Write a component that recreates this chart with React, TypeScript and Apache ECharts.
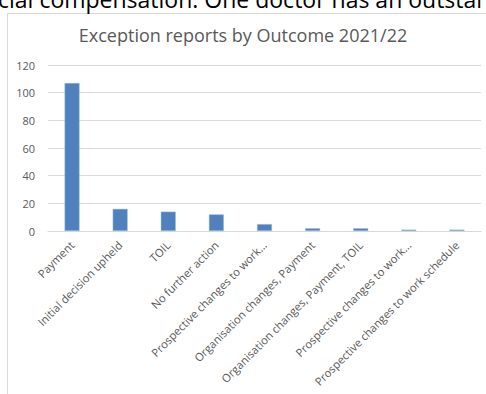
import React, { useEffect, useRef } from "react";
import * as echarts from "echarts";

const categories = [
  "Payment",
  "Initial decision upheld",
  "TOIL",
  "No further action",
  "Prospective changes to work...",
  "Organisation changes, Payment",
  "Organisation changes, Payment, TOIL",
  "Prospective changes to work...",
  "Prospective changes to work schedule",
];
const values = [107, 16, 14, 12, 5, 2, 2, 1, 1];
const yTicks = { min: 0, max: 120, interval: 20 };
const titleText = "Exception reports by Outcome 2021/22";
const docText = "cial compensation. One doctor has an outstanding";

export default function App() {
  const ref = useRef<HTMLDivElement>(null);
  useEffect(() => {
    if (!ref.current) return;
    const chart = echarts.init(ref.current, null, { renderer: "svg" });
    const font = "'Open Sans', sans-serif";
    chart.setOption({
      animation: false,
      backgroundColor: "#ffffff",
      title: {
        text: titleText,
        left: "center",
        top: 21,
        textStyle: { fontFamily: font, fontSize: 18, fontWeight: "normal", color: "#595959" },
      },
      graphic: [
        {
          type: "rect",
          shape: { x: 7.5, y: 13.5, width: 500, height: 400 },
          style: { fill: "none", stroke: "#d9d9d9", lineWidth: 1 },
          z: -1,
        },
        {
          type: "text",
          x: -2,
          y: 10,
          style: {
            text: docText,
            fontFamily: font,
            fontSize: 23,
            fill: "#000000",
            verticalAlign: "bottom",
          },
        },
      ],
      grid: { left: 48, right: 5, top: 65, bottom: 163, containLabel: false },
      xAxis: {
        type: "category",
        data: categories,
        axisLine: { lineStyle: { color: "#d9d9d9" } },
        axisTick: { show: false },
        axisLabel: {
          rotate: 45,
          interval: 0,
          margin: 12,
          fontFamily: font,
          fontSize: 11.2,
          color: "#595959",
        },
      },
      yAxis: {
        type: "value",
        min: yTicks.min,
        max: yTicks.max,
        interval: yTicks.interval,
        axisLine: { show: false },
        axisTick: { show: false },
        splitLine: { lineStyle: { color: "#d9d9d9" } },
        axisLabel: { fontFamily: font, fontSize: 11, color: "#595959", margin: 13 },
      },
      series: [
        {
          type: "bar",
          data: values,
          barWidth: 15,
          itemStyle: { color: "#4f81bd", borderColor: "#a7c0de", borderWidth: 0.5 },
        },
      ],
    });
    return () => chart.dispose();
  }, []);
  return (
    <div
      ref={ref}
      style={{ position: "absolute", left: 0, top: 0, width: 486, height: 394 }}
    />
  );
}
